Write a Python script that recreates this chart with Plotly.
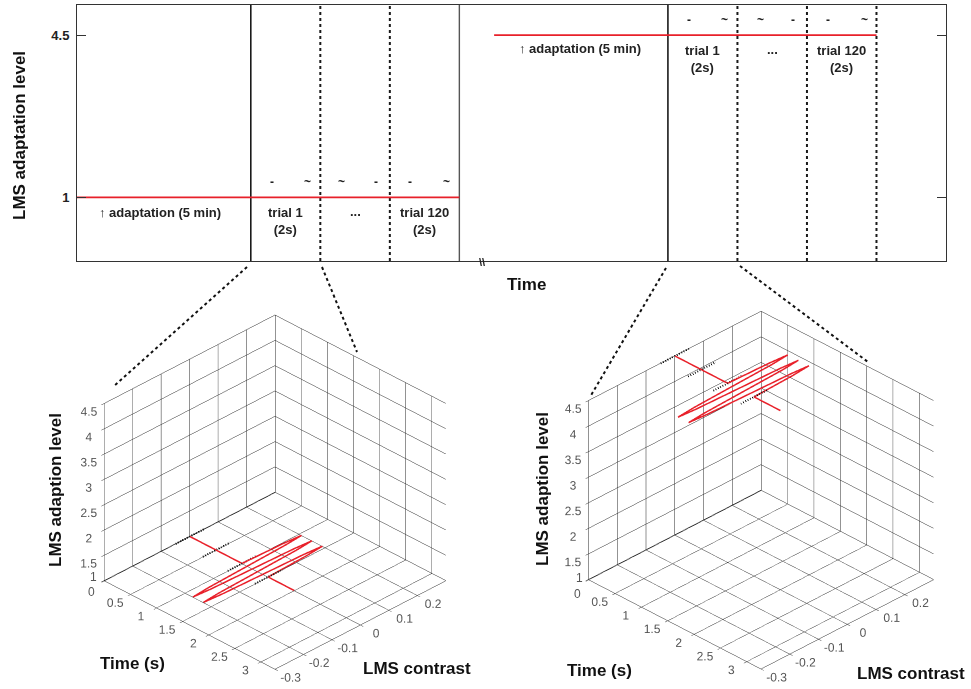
import plotly.graph_objects as go

W, H = 971, 689
FONT = "Arial, Liberation Sans, sans-serif"

# ---------------- top panel data (x in trial-width units) ----------------
top_y_range = [-0.375, 5.15]
top_x_range = [0, 12.5]
adapt_low_x = [0, 5.5]
adapt_low_y = [1, 1]
adapt_high_x = [6.0, 11.5]
adapt_high_y = [4.5, 4.5]
solid_black_x = [2.5, 8.5]
solid_gray_x = [5.5]
dotted_x = [3.5, 4.5, 9.5, 10.5, 11.5]
top_yticks = [1, 4.5]
top_yticklabels = ["1", "4.5"]

# labels inside the top panel: (x, y, text)
panel_texts = [
    (1.2, 0.68, "\u2191 adaptation (5 min)"),
    (3.0, 0.49, "trial 1<br>(2s)"),
    (4.0, 0.70, "..."),
    (5.0, 0.49, "trial 120<br>(2s)"),
    (7.24, 4.22, "\u2191 adaptation (5 min)"),
    (9.0, 3.98, "trial 1<br>(2s)"),
    (10.0, 4.20, "..."),
    (11.0, 3.98, "trial 120<br>(2s)"),
]
stim_marks = [
    (2.8, 1.32, "-"), (3.31, 1.32, "~"), (3.81, 1.32, "~"),
    (4.3, 1.32, "-"), (4.79, 1.32, "-"), (5.32, 1.32, "~"),
    (8.8, 4.82, "-"), (9.32, 4.82, "~"), (9.83, 4.82, "~"),
    (10.3, 4.82, "-"), (10.8, 4.82, "-"), (11.33, 4.82, "~"),
]

# ---------------- 3D panels data ----------------
trial_time = [0, 1.0, 1.025, 1.05, 1.075, 1.1, 1.125, 1.15, 1.175, 1.2, 1.225,
              1.25, 1.275, 1.3, 1.325, 1.35, 1.375, 1.4, 1.425, 1.45, 1.475, 1.5, 2.0]
trial_contrast = [0, 0, 0.14, 0.2, 0.14, 0, -0.14, -0.2, -0.14, 0, 0.14,
                  0.2, 0.14, 0, -0.14, -0.2, -0.14, 0, 0.14, 0.2, 0.14, 0, 0]
marker_times = [0, 0.5, 1.0, 1.5]
marker_contrast = [-0.05, 0.05]
levels = [1, 4.5]

time_ticks = [0, 0.5, 1, 1.5, 2, 2.5, 3]
time_ticklabels = ["0", "0.5", "1", "1.5", "2", "2.5", "3"]
contrast_ticks = [-0.3, -0.2, -0.1, 0, 0.1, 0.2]
contrast_ticklabels = ["-0.3", "-0.2", "-0.1", "0", "0.1", "0.2"]
level_ticks = [1, 1.5, 2, 2.5, 3, 3.5, 4, 4.5]
level_ticklabels = ["1", "1.5", "2", "2.5", "3", "3.5", "4", "4.5"]
time_range = [-0.005, 3.27]
contrast_range = [-0.3, 0.3]
level_range = [0.995, 4.505]

fig = go.Figure()

# ---- top panel traces ----
def vlines(xs):
    X, Y = [], []
    for x in xs:
        X += [x, x, None]
        Y += [top_y_range[0], top_y_range[1], None]
    return X, Y

X, Y = vlines(solid_black_x)
fig.add_trace(go.Scatter(x=X, y=Y, mode="lines", line=dict(color="#1a1a1a", width=1.6),
                         xaxis="x", yaxis="y", showlegend=False, hoverinfo="skip"))
X, Y = vlines(solid_gray_x)
fig.add_trace(go.Scatter(x=X, y=Y, mode="lines", line=dict(color="#555555", width=1.4),
                         xaxis="x", yaxis="y", showlegend=False, hoverinfo="skip"))
X, Y = vlines(dotted_x)
fig.add_trace(go.Scatter(x=X, y=Y, mode="lines", line=dict(color="#1a1a1a", width=2, dash="dot"),
                         xaxis="x", yaxis="y", showlegend=False, hoverinfo="skip"))
fig.add_trace(go.Scatter(x=adapt_low_x, y=adapt_low_y, mode="lines",
                         line=dict(color="#e8202a", width=1.8), xaxis="x", yaxis="y",
                         showlegend=False, hoverinfo="skip"))
fig.add_trace(go.Scatter(x=adapt_high_x, y=adapt_high_y, mode="lines",
                         line=dict(color="#e8202a", width=1.8), xaxis="x", yaxis="y",
                         showlegend=False, hoverinfo="skip"))

annotations = []
for x, y, t in panel_texts:
    annotations.append(dict(x=x, y=y, xref="x", yref="y", text="<b>%s</b>" % t,
                            showarrow=False, font=dict(family=FONT, size=13, color="#222")))
for x, y, t in stim_marks:
    annotations.append(dict(x=x, y=y, xref="x", yref="y", text="<b>%s</b>" % t,
                            showarrow=False, font=dict(family=FONT, size=12, color="#222")))


def paper_text(px, py, text, size, color="#111", angle=0):
    return dict(x=px / W, y=1 - py / H, xref="paper", yref="paper", text=text,
                textangle=angle, showarrow=False, xanchor="center", yanchor="middle",
                font=dict(family=FONT, size=size, color=color))


# axis break marker
annotations.append(dict(x=5.83, y=1 - 262 / H, xref="x", yref="paper", text="<b>\\\\</b>",
                        showarrow=False, xanchor="center", yanchor="middle",
                        font=dict(family=FONT, size=11, color="#222")))
# top axis titles
annotations.append(paper_text(20, 136, "<b>LMS adaptation level</b>", 17, angle=-90))
annotations.append(paper_text(526, 285, "<b>Time</b>", 17))

# ---- 3D panels ----
scene_domains = [dict(x=[0.068, 0.498], y=[0.0, 0.572]), dict(x=[0.569, 0.999], y=[0.0, 0.578])]
title_pos = [((55, 490), (132, 663), (417, 668)), ((542, 489), (599, 670), (911, 673))]

for i, lev in enumerate(levels):
    sc = "scene" if i == 0 else "scene2"
    fig.add_trace(go.Scatter3d(x=trial_time, y=trial_contrast, z=[lev] * len(trial_time),
                               mode="lines", line=dict(color="#e8202a", width=3),
                               scene=sc, showlegend=False, hoverinfo="skip"))
    MX, MY, MZ = [], [], []
    for t in marker_times:
        MX += [t, t, None]
        MY += [marker_contrast[0], marker_contrast[1], None]
        MZ += [lev, lev, None]
    fig.add_trace(go.Scatter3d(x=MX, y=MY, z=MZ, mode="lines",
                               line=dict(color="#111", width=4, dash="dash"),
                               scene=sc, showlegend=False, hoverinfo="skip"))
    ax_common = dict(showgrid=True, gridcolor="#262626", gridwidth=1, showline=True,
                     linecolor="#262626", linewidth=1, showbackground=False, zeroline=False,
                     ticks="outside", ticklen=4, tickcolor="#333", showspikes=False,
                     tickangle=0,
                     title=dict(text=""), tickfont=dict(family=FONT, size=12, color="#555"))
    # the first time / level labels share the box corner: they are drawn as annotations below
    scene = dict(
        domain=scene_domains[i],
        xaxis=dict(range=time_range, tickvals=time_ticks,
                   ticktext=[" "] + time_ticklabels[1:], **ax_common),
        yaxis=dict(range=contrast_range, tickvals=contrast_ticks, ticktext=contrast_ticklabels, **ax_common),
        zaxis=dict(range=level_range, tickvals=level_ticks,
                   ticktext=[" "] + level_ticklabels[1:], **ax_common),
        aspectmode="manual", aspectratio=dict(x=1.226, y=1.226, z=1.054),
        camera=dict(projection=dict(type="orthographic"), up=dict(x=0, y=0, z=1),
                    center=dict(x=0, y=0, z=0), eye=dict(x=1.02, y=-1.02, z=0.873)),
        bgcolor="rgba(0,0,0,0)",
    )
    fig.update_layout(**{sc: scene})
    (zx, zy), (tx, ty), (cx, cy) = title_pos[i]
    annotations.append(paper_text(zx, zy, "<b>LMS adaption level</b>", 17, angle=-90))
    annotations.append(paper_text(tx, ty, "<b>Time (s)</b>", 17))
    annotations.append(paper_text(cx, cy, "<b>LMS contrast</b>", 17))

# corner labels (time 0 and level 1 share the corner of each 3D box)
corner_labels = [((93, 577), (91, 592)), ((579, 578), (577, 594))]
for (lx, ly), (tx0, ty0) in corner_labels:
    annotations.append(paper_text(lx, ly, level_ticklabels[0], 12, color="#555"))
    annotations.append(paper_text(tx0, ty0, time_ticklabels[0], 12, color="#555"))

# connector dotted lines (paper coords)
connectors = [((247, 267), (113, 387)), ((322, 267), (357, 352)),
              ((666, 268), (590, 397)), ((740, 266), (868, 362))]
shapes = []
for (x0, y0), (x1, y1) in connectors:
    shapes.append(dict(type="line", xref="paper", yref="paper", x0=x0 / W, y0=1 - y0 / H,
                       x1=x1 / W, y1=1 - y1 / H, line=dict(color="#111", width=2, dash="dot")))

fig.update_layout(
    width=W, height=H, margin=dict(l=0, r=0, t=0, b=0),
    paper_bgcolor="white", plot_bgcolor="white", template="none",
    xaxis=dict(domain=[77 / W, 946 / W], range=top_x_range, showticklabels=False, ticks="",
               showgrid=False, zeroline=False, showline=True, linecolor="#333", linewidth=1,
               mirror=True, anchor="y"),
    yaxis=dict(domain=[1 - 261 / H, 1 - 5 / H], range=top_y_range, tickvals=top_yticks,
               ticktext=["<b>%s</b>" % s for s in top_yticklabels], ticks="inside", ticklen=9,
               tickcolor="#333", showgrid=False, zeroline=False, showline=True,
               linecolor="#333", linewidth=1, mirror="ticks", anchor="x",
               tickfont=dict(family=FONT, size=13, color="#222"), ticklabelstandoff=4),
    annotations=annotations, shapes=shapes, showlegend=False,
)

fig.write_html("out.html", config=dict(displayModeBar=False),
               post_script="document.body.style.margin='0px';")
